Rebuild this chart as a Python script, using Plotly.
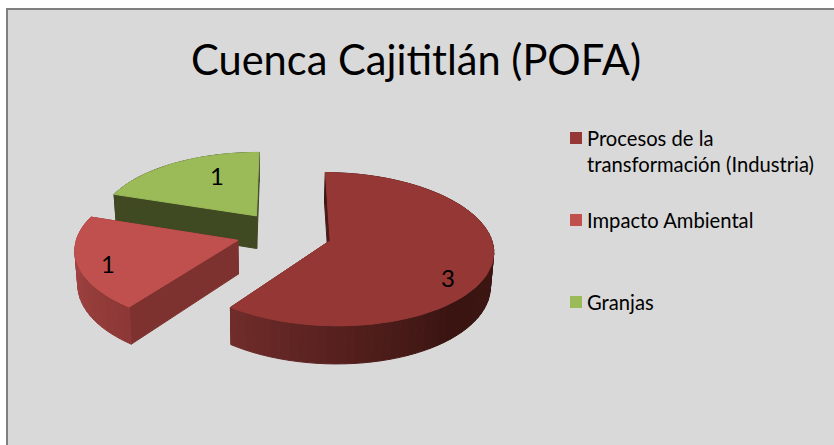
import math
import plotly.graph_objects as go

TITLE = "Cuenca Cajititlán (POFA)"
categories = ["Procesos de la<br>transformación (Industria)", "Impacto Ambiental", "Granjas"]
values = [3, 1, 1]

# styles: top colour, radial wall colour, outer wall colour stops (angle in degrees -> rgb)
TOP = ["#953735", "#C0504D", "#9BBB59"]
RADIAL = ["#4a1a18", "#7e3230", "#404a22"]
OUTER = [
    [(90, (60, 22, 18)), (140, (58, 20, 17)), (216, (112, 44, 42))],
    [(216, (140, 56, 54)), (290, (170, 72, 70))],
    [(288, (64, 74, 34)), (360, (64, 74, 34))],
]

# projection settings (pixel axes)
W, H = 834, 445
CX, CY = 284.0, 233.5
RX, RY = 160.0, 74.1
K = 0.1105
VX = 270.0
PULL = 0.30
DEPTH = 33.5
SHRINK = 0.985
ROT = 0.5


def project(px, py, bottom=False):
    f = 1.0 / (1.0 + K * py)
    x = VX + (CX - VX + RX * px) * f
    y = CY - RY * py * f
    if bottom:
        x = VX + (x - VX) * SHRINK
        y = y + DEPTH * f
    return x, y


def lerp_colour(stops, a):
    a = max(stops[0][0], min(stops[-1][0], a))
    for (a0, c0), (a1, c1) in zip(stops, stops[1:]):
        if a0 <= a <= a1:
            t = (a - a0) / (a1 - a0)
            return "rgb(%d,%d,%d)" % tuple(round(c0[i] + (c1[i] - c0[i]) * t) for i in range(3))
    return "rgb(%d,%d,%d)" % stops[-1][1]


def polygon(points, colour, name):
    return go.Scatter(
        x=[p[0] for p in points] + [points[0][0]],
        y=[p[1] for p in points] + [points[0][1]],
        mode="lines", fill="toself", fillcolor=colour,
        line=dict(color=colour, width=1), name=name,
        hoverinfo="name", showlegend=False,
    )


# slice angles derive from the values
total = sum(values)
spans = []
start = ROT
for v in values:
    sweep = 360.0 * v / total
    spans.append((start, start + sweep))
    start += sweep

fig = go.Figure()
plain_names = [c.replace("<br>", " ") for c in categories]

# paint order: back slice first
for idx in [2, 1, 0]:
    a0, a1 = spans[idx]
    mid = math.radians((a0 + a1) / 2)
    ox, oy = PULL * math.sin(mid), PULL * math.cos(mid)
    name = plain_names[idx]
    steps = max(6, int((a1 - a0) / 3))
    angles = [a0 + (a1 - a0) * i / steps for i in range(steps + 1)]
    rim = [(ox + math.sin(math.radians(a)), oy + math.cos(math.radians(a))) for a in angles]

    # radial walls
    apex_t, apex_b = project(ox, oy), project(ox, oy, True)
    for end in (rim[0], rim[-1]):
        fig.add_trace(polygon([apex_t, project(*end), project(*end, True), apex_b], RADIAL[idx], name))
    # outer wall segments
    for i in range(steps):
        p, q = rim[i], rim[i + 1]
        col = lerp_colour(OUTER[idx], (angles[i] + angles[i + 1]) / 2)
        fig.add_trace(polygon([project(*p), project(*q), project(*q, True), project(*p, True)], col, name))
    # top face
    fig.add_trace(polygon([apex_t] + [project(*r) for r in rim], TOP[idx], name))

# data labels
label_pos = [(448, 277), (108, 263), (217, 175)]
annotations = [
    dict(x=x, y=y, text=str(v), showarrow=False, font=dict(size=24, color="black"),
         xanchor="center", yanchor="middle")
    for v, (x, y) in zip(values, label_pos)
]

# legend
legend_y = [138, 220, 302]
text_y = [151, 220, 302]
fig.add_trace(go.Scatter(
    x=[576] * 3, y=legend_y, mode="markers", hoverinfo="skip", showlegend=False,
    marker=dict(symbol="square", size=12, color=TOP, line=dict(width=0)),
))
for c, y in zip(categories, text_y):
    annotations.append(dict(x=585.5, y=y, text=c, showarrow=False, align="left",
                            xanchor="left", yanchor="middle", borderpad=0,
                            font=dict(size=20.2, color="black")))

annotations.append(dict(x=415.5, y=59, text=TITLE, showarrow=False, xanchor="center",
                        yanchor="middle", font=dict(size=41.6, color="black")))

fig.update_layout(
    width=W, height=H, autosize=False,
    margin=dict(l=0, r=0, t=0, b=0),
    paper_bgcolor="white", plot_bgcolor="white",
    font=dict(family="Lato, Carlito, Calibri, sans-serif"),
    xaxis=dict(range=[0, W], visible=False, fixedrange=True),
    yaxis=dict(range=[H, 0], visible=False, fixedrange=True),
    showlegend=False,
    annotations=annotations,
    shapes=[dict(type="rect", layer="below", x0=7, y0=9, x1=W + 20, y1=H + 20,
                 fillcolor="#D9D9D9", line=dict(color="#7F7F7F", width=2))],
)
fig.write_html("out.html", config=dict(displayModeBar=False),
               post_script="document.body.style.margin='0';document.documentElement.style.overflow='hidden';")
